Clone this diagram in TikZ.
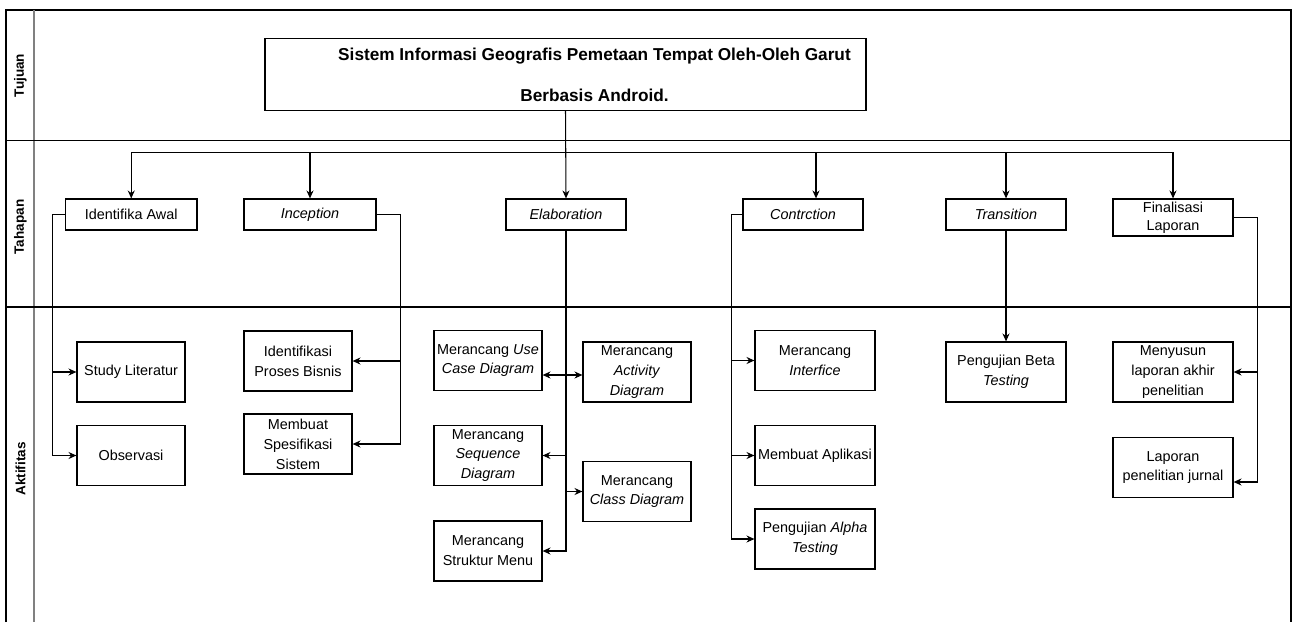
\documentclass[tikz,border=0pt]{standalone}
\usepackage{fontspec}
\setmainfont{Liberation Sans}
\usetikzlibrary{arrows.meta,positioning,calc}

\begin{document}
\begin{tikzpicture}[x=0.02cm, y=-0.02cm,
    titlebox/.style={rectangle, draw, line width=0.7pt, minimum width=12.02cm, minimum height=1.44cm,
      inner sep=0pt, align=center, font=\bfseries\fontsize{9.8}{12}\selectfont},
    tahap/.style={rectangle, draw, line width=0.7pt, minimum width=2.4cm, minimum height=0.62cm,
      inner sep=0pt, align=center, font=\fontsize{8.2}{11.3}\selectfont},
    kegiatan/.style={rectangle, draw, line width=0.7pt, minimum width=2.16cm, minimum height=1.2cm,
      inner sep=0pt, align=center, font=\fontsize{8.2}{11.3}\selectfont},
    lajur/.style={rotate=90, font=\bfseries\fontsize{7.7}{9}\selectfont},
    garis/.style={line width=0.6pt},
    arr/.style={-{Stealth[length=4.5pt,width=4pt]}, line width=0.6pt},
    arr2/.style={{Stealth[length=4.5pt,width=4pt]}-{Stealth[length=4.5pt,width=4pt]}, line width=0.6pt}
  ]
    \useasboundingbox (0,0) rectangle (1293,622);
    % Swimlanes
    \draw[garis] (6,622) -- (6,10) -- (1291,10) -- (1291,622);
    \draw[garis, gray] (34,10) -- (34,622);
    \draw[garis] (6,140.5) -- (1291,140.5);
    \draw[garis] (6,307) -- (1291,307);
    \node[lajur] (lTujuan) at (20.5,75.5) {Tujuan};
    \node[lajur] (lTahapan) at (20.5,227) {Tahapan};
    \node[lajur] (lAktifitas) at (20.5,469) {Aktifitas};
    % Tujuan
    \node[titlebox] (tujuan) at (565.5,74.5) {
      \hspace*{1.16cm}Sistem Informasi Geografis Pemetaan Tempat Oleh-Oleh Garut\\[11.2pt]
      \hspace*{1.16cm}Berbasis Android.
    };
    \coordinate (bus) at (0,152.5);
    % Tahapan
    \node[tahap, minimum width=2.63cm] (awal) at (131.25,214.5) {Identifika Awal};
    \node[tahap, minimum width=2.64cm] (inception) at (310,214.5) {\textit{Inception}};
    \node[tahap] (elab) at (566,214.5) {\textit{Elaboration}};
    \node[tahap] (contrction) at (803,214.5) {\textit{Contrction}};
    \node[tahap] (transition) at (1006,214.5) {\textit{Transition}};
    \node[tahap, minimum height=0.74cm, font=\fontsize{8.2}{10.2}\selectfont] (final) at (1173,217.5) {Finalisasi\\Laporan};
    \coordinate (contrctionIn) at ([xshift=0.26cm]contrction.north);
    % Aktifitas
    \node[kegiatan] (studi) at (131,372) {Study Literatur};
    \node[kegiatan] (observasi) at (131,455.5) {Observasi};
    \node[kegiatan] (proses) at (298,361) {Identifikasi\\Proses Bisnis};
    \node[kegiatan] (spesifikasi) at (298,444) {Membuat\\Spesifikasi\\Sistem};
    \node[kegiatan] (usecase) at (488,360.5) {Merancang \textit{Use}\\\textit{Case Diagram}};
    \node[kegiatan] (activity) at (637,372) {Merancang\\\textit{Activity}\\\textit{Diagram}};
    \node[kegiatan] (sequence) at (488,455.5) {Merancang\\\textit{Sequence}\\\textit{Diagram}};
    \node[kegiatan] (class) at (637,491.5) {Merancang\\\textit{Class Diagram}};
    \node[kegiatan] (struktur) at (488,551) {Merancang\\Struktur Menu};
    \node[kegiatan, minimum width=2.4cm] (interfice) at (815,360.5) {Merancang\\\textit{Interfice}};
    \node[kegiatan, minimum width=2.4cm] (aplikasi) at (815,455.5) {Membuat Aplikasi};
    \node[kegiatan, minimum width=2.4cm] (alpha) at (815,539) {Pengujian \textit{Alpha}\\\textit{Testing}};
    \node[kegiatan, minimum width=2.4cm] (beta) at (1006,372) {Pengujian Beta\\\textit{Testing}};
    \node[kegiatan, minimum width=2.4cm] (menyusun) at (1173,372) {Menyusun\\laporan akhir\\penelitian};
    \node[kegiatan, minimum width=2.4cm] (jurnal) at (1173,467.5) {Laporan\\penelitian jurnal};
    % Tujuan ke tahapan
    \draw[arr] (tujuan.south) -- (elab.north);
    \draw[arr] (tujuan.south) |- (bus -| awal.north) -- (awal.north);
    \draw[arr] (tujuan.south) |- (bus -| inception.north) -- (inception.north);
    \draw[arr] (tujuan.south) |- (bus -| contrctionIn) -- (contrctionIn);
    \draw[arr] (tujuan.south) |- (bus -| transition.north) -- (transition.north);
    \draw[arr] (tujuan.south) |- (bus -| final.north) -- (final.north);
    % Tahapan ke aktifitas
    \draw[arr] (awal.west) -- ++(-12.5,0) |- (studi.west);
    \draw[arr] (awal.west) -- ++(-12.5,0) |- (observasi.west);
    \draw[arr] (inception.east) -- ++(24,0) |- (proses.east);
    \draw[arr] (inception.east) -- ++(24,0) |- (spesifikasi.east);
    \draw[arr2] (usecase.east |- 0,375) -- (activity.west |- 0,375);
    \draw[arr] (elab.south) |- (sequence.east);
    \draw[arr] (elab.south) |- (class.west);
    \draw[arr] (elab.south) |- (struktur.east);
    \draw[arr] (contrction.west) -- ++(-11,0) |- (interfice.west);
    \draw[arr] (contrction.west) -- ++(-11,0) |- (aplikasi.west);
    \draw[arr] (contrction.west) -- ++(-11,0) |- (alpha.west);
    \draw[arr] (transition.south) -- (beta.north);
    \draw[arr] (final.east) -- ++(23.5,0) |- (menyusun.east);
    \draw[arr] (final.east) -- ++(23.5,0) |- ([yshift=-0.29cm]jurnal.east);
  \end{tikzpicture}
\end{document}
